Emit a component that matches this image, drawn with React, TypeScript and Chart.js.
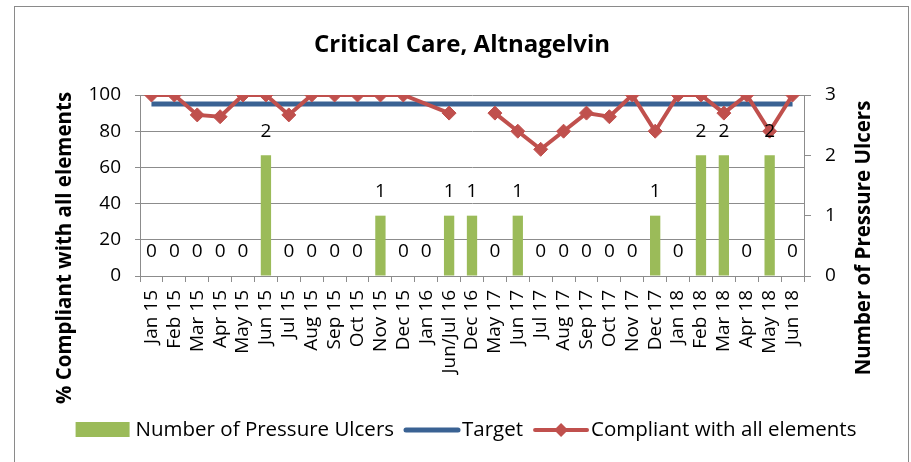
import React, { useEffect, useRef } from 'react';
import { Chart, registerables } from 'chart.js';

Chart.register(...registerables);

const categories = [
  'Jan 15', 'Feb 15', 'Mar 15', 'Apr 15', 'May 15', 'Jun 15', 'Jul 15', 'Aug 15', 'Sep 15', 'Oct 15',
  'Nov 15', 'Dec 15', 'Jan 16', 'Jun/Jul 16', 'Dec 16', 'May 17', 'Jun 17', 'Jul 17', 'Aug 17', 'Sep 17',
  'Oct 17', 'Nov 17', 'Dec 17', 'Jan 18', 'Feb 18', 'Mar 18', 'Apr 18', 'May 18', 'Jun 18',
];

const pressureUlcers = [0, 0, 0, 0, 0, 2, 0, 0, 0, 0, 1, 0, 0, 1, 1, 0, 1, 0, 0, 0, 0, 0, 1, 0, 2, 2, 0, 2, 0];

const target = [95, 95, 95, 95, 95, 95, 95, 95, 95, 95, 95, 95, 95, 95, 95, 95, 95, 95, 95, 95, 95, 95, 95, 95, 95, 95, 95, 95, 95];

const compliant = [100, 100, 89, 88, 100, 100, 89, 100, 100, 100, 100, 100, null, 90, null, 90, 80, 70, 80, 90, 88, 100, 80, 100, 100, 90, 100, 80, 100];

const leftTicks = [0, 20, 40, 60, 80, 100];
const rightTicks = [0, 1, 2, 3];

const titleText = 'Critical Care, Altnagelvin';
const leftTitle = '% Compliant with all elements';
const rightTitle = 'Number of Pressure Ulcers';
const seriesNames = ['Number of Pressure Ulcers', 'Target', 'Compliant with all elements'];

const GREEN = '#9BBB59';
const BLUE = '#3A6293';
const RED = '#C0504D';
const GRID = '#8C8C8C';
const REG = "'Open Sans', sans-serif";

const decorPlugin = {
  id: 'decor',
  afterDatasetsDraw(chart: any) {
    const ctx = chart.ctx;
    const meta = chart.getDatasetMeta(0);
    ctx.save();
    ctx.fillStyle = '#000';
    ctx.font = `19px ${REG}`;
    ctx.textAlign = 'center';
    ctx.textBaseline = 'middle';
    meta.data.forEach((el: any, i: number) => {
      ctx.fillText(String(pressureUlcers[i]), el.x, el.y - 24);
    });
    ctx.restore();
  },
  afterDraw(chart: any) {
    const ctx = chart.ctx;
    ctx.save();
    // frame
    ctx.strokeStyle = '#8A8A8A';
    ctx.lineWidth = 1;
    ctx.strokeRect(14.5, 6.5, 894, 470);
    // title
    ctx.fillStyle = '#000';
    ctx.font = `bold 24px ${REG}`;
    ctx.textAlign = 'center';
    ctx.textBaseline = 'middle';
    ctx.fillText(titleText, 462, 45);
    // axis titles
    ctx.font = `bold 20.5px ${REG}`;
    ctx.save();
    ctx.translate(65, 248);
    ctx.rotate(-Math.PI / 2);
    ctx.fillText(leftTitle, 0, 0);
    ctx.restore();
    ctx.save();
    ctx.translate(864, 238);
    ctx.rotate(-Math.PI / 2);
    ctx.fillText(rightTitle, 0, 0);
    ctx.restore();
    // legend
    ctx.font = `20.5px ${REG}`;
    ctx.textAlign = 'left';
    const w0 = ctx.measureText(seriesNames[0]).width;
    const w1 = ctx.measureText(seriesNames[1]).width;
    const w2 = ctx.measureText(seriesNames[2]).width;
    const total = 54 + 6 + w0 + 10 + 56 + 2 + w1 + 10 + 56 + 2 + w2;
    let x = 466 - total / 2;
    const ly = 430;
    ctx.fillStyle = GREEN;
    ctx.fillRect(x, ly - 8, 54, 15);
    x += 60;
    ctx.fillStyle = '#000';
    ctx.fillText(seriesNames[0], x, ly);
    x += w0 + 10;
    ctx.strokeStyle = BLUE;
    ctx.lineWidth = 5;
    ctx.lineCap = 'round';
    ctx.beginPath();
    ctx.moveTo(x + 2, ly);
    ctx.lineTo(x + 54, ly);
    ctx.stroke();
    x += 58;
    ctx.fillText(seriesNames[1], x, ly);
    x += w1 + 10;
    ctx.strokeStyle = RED;
    ctx.lineWidth = 4;
    ctx.beginPath();
    ctx.moveTo(x + 2, ly);
    ctx.lineTo(x + 54, ly);
    ctx.stroke();
    ctx.fillStyle = RED;
    ctx.beginPath();
    const cx = x + 28;
    ctx.moveTo(cx, ly - 7);
    ctx.lineTo(cx + 7, ly);
    ctx.lineTo(cx, ly + 7);
    ctx.lineTo(cx - 7, ly);
    ctx.closePath();
    ctx.fill();
    x += 58;
    ctx.fillStyle = '#000';
    ctx.fillText(seriesNames[2], x, ly);
    ctx.restore();
  },
};

export default function App() {
  const ref = useRef<HTMLCanvasElement | null>(null);
  useEffect(() => {
    document.body.style.margin = '0';
    const canvas = ref.current;
    if (!canvas) return;
    const hidden = (c: any) =>
      c.p0DataIndex === 13 || c.p0DataIndex === 14 ? 'rgba(0,0,0,0)' : undefined;
    const chart = new Chart(canvas, {
      type: 'bar',
      data: {
        labels: categories,
        datasets: [
          {
            type: 'bar',
            label: seriesNames[0],
            data: pressureUlcers,
            backgroundColor: GREEN,
            yAxisID: 'y1',
            barPercentage: 0.45,
            categoryPercentage: 1,
            order: 3,
          },
          {
            type: 'line',
            label: seriesNames[1],
            data: target,
            borderColor: BLUE,
            borderWidth: 5,
            pointRadius: 0,
            yAxisID: 'y',
            order: 2,
          },
          {
            type: 'line',
            label: seriesNames[2],
            data: compliant,
            borderColor: RED,
            backgroundColor: RED,
            borderWidth: 4,
            pointStyle: 'rectRot',
            pointRadius: 7,
            pointBackgroundColor: RED,
            pointBorderColor: RED,
            pointBorderWidth: 1,
            spanGaps: true,
            segment: { borderColor: hidden },
            yAxisID: 'y',
            order: 1,
          },
        ] as any,
      },
      options: {
        responsive: false,
        animation: false,
        layout: { padding: { top: 95, left: 0, right: 0, bottom: 0 } },
        plugins: {
          legend: { display: false },
          title: { display: false },
          tooltip: { enabled: false },
        },
        scales: {
          x: {
            type: 'category',
            offset: true,
            grid: { offset: true, drawOnChartArea: false, drawTicks: true, tickLength: 6, color: GRID },
            border: { color: GRID },
            ticks: {
              minRotation: 90,
              maxRotation: 90,
              autoSkip: false,
              padding: 8,
              color: '#000',
              font: { family: REG, size: 19 },
            },
            afterFit: (s: any) => {
              s.height = 186;
            },
          },
          y: {
            position: 'left',
            min: 0,
            max: 100,
            afterBuildTicks: (s: any) => {
              s.ticks = leftTicks.map((v) => ({ value: v }));
            },
            grid: { color: GRID, tickLength: 5 },
            border: { color: GRID },
            ticks: { color: '#000', padding: 14, font: { family: REG, size: 19 } },
            afterFit: (s: any) => {
              s.width = 140;
            },
          },
          y1: {
            position: 'right',
            min: 0,
            max: 3,
            afterBuildTicks: (s: any) => {
              s.ticks = rightTicks.map((v) => ({ value: v }));
            },
            grid: { drawOnChartArea: false, color: GRID, tickLength: 7 },
            border: { color: GRID },
            ticks: { color: '#000', padding: 14, font: { family: REG, size: 19 } },
            afterFit: (s: any) => {
              s.width = 107;
            },
          },
        },
      } as any,
      plugins: [decorPlugin],
    });
    return () => chart.destroy();
  }, []);
  return <canvas ref={ref} width={911} height={462} style={{ display: 'block' }} />;
}
